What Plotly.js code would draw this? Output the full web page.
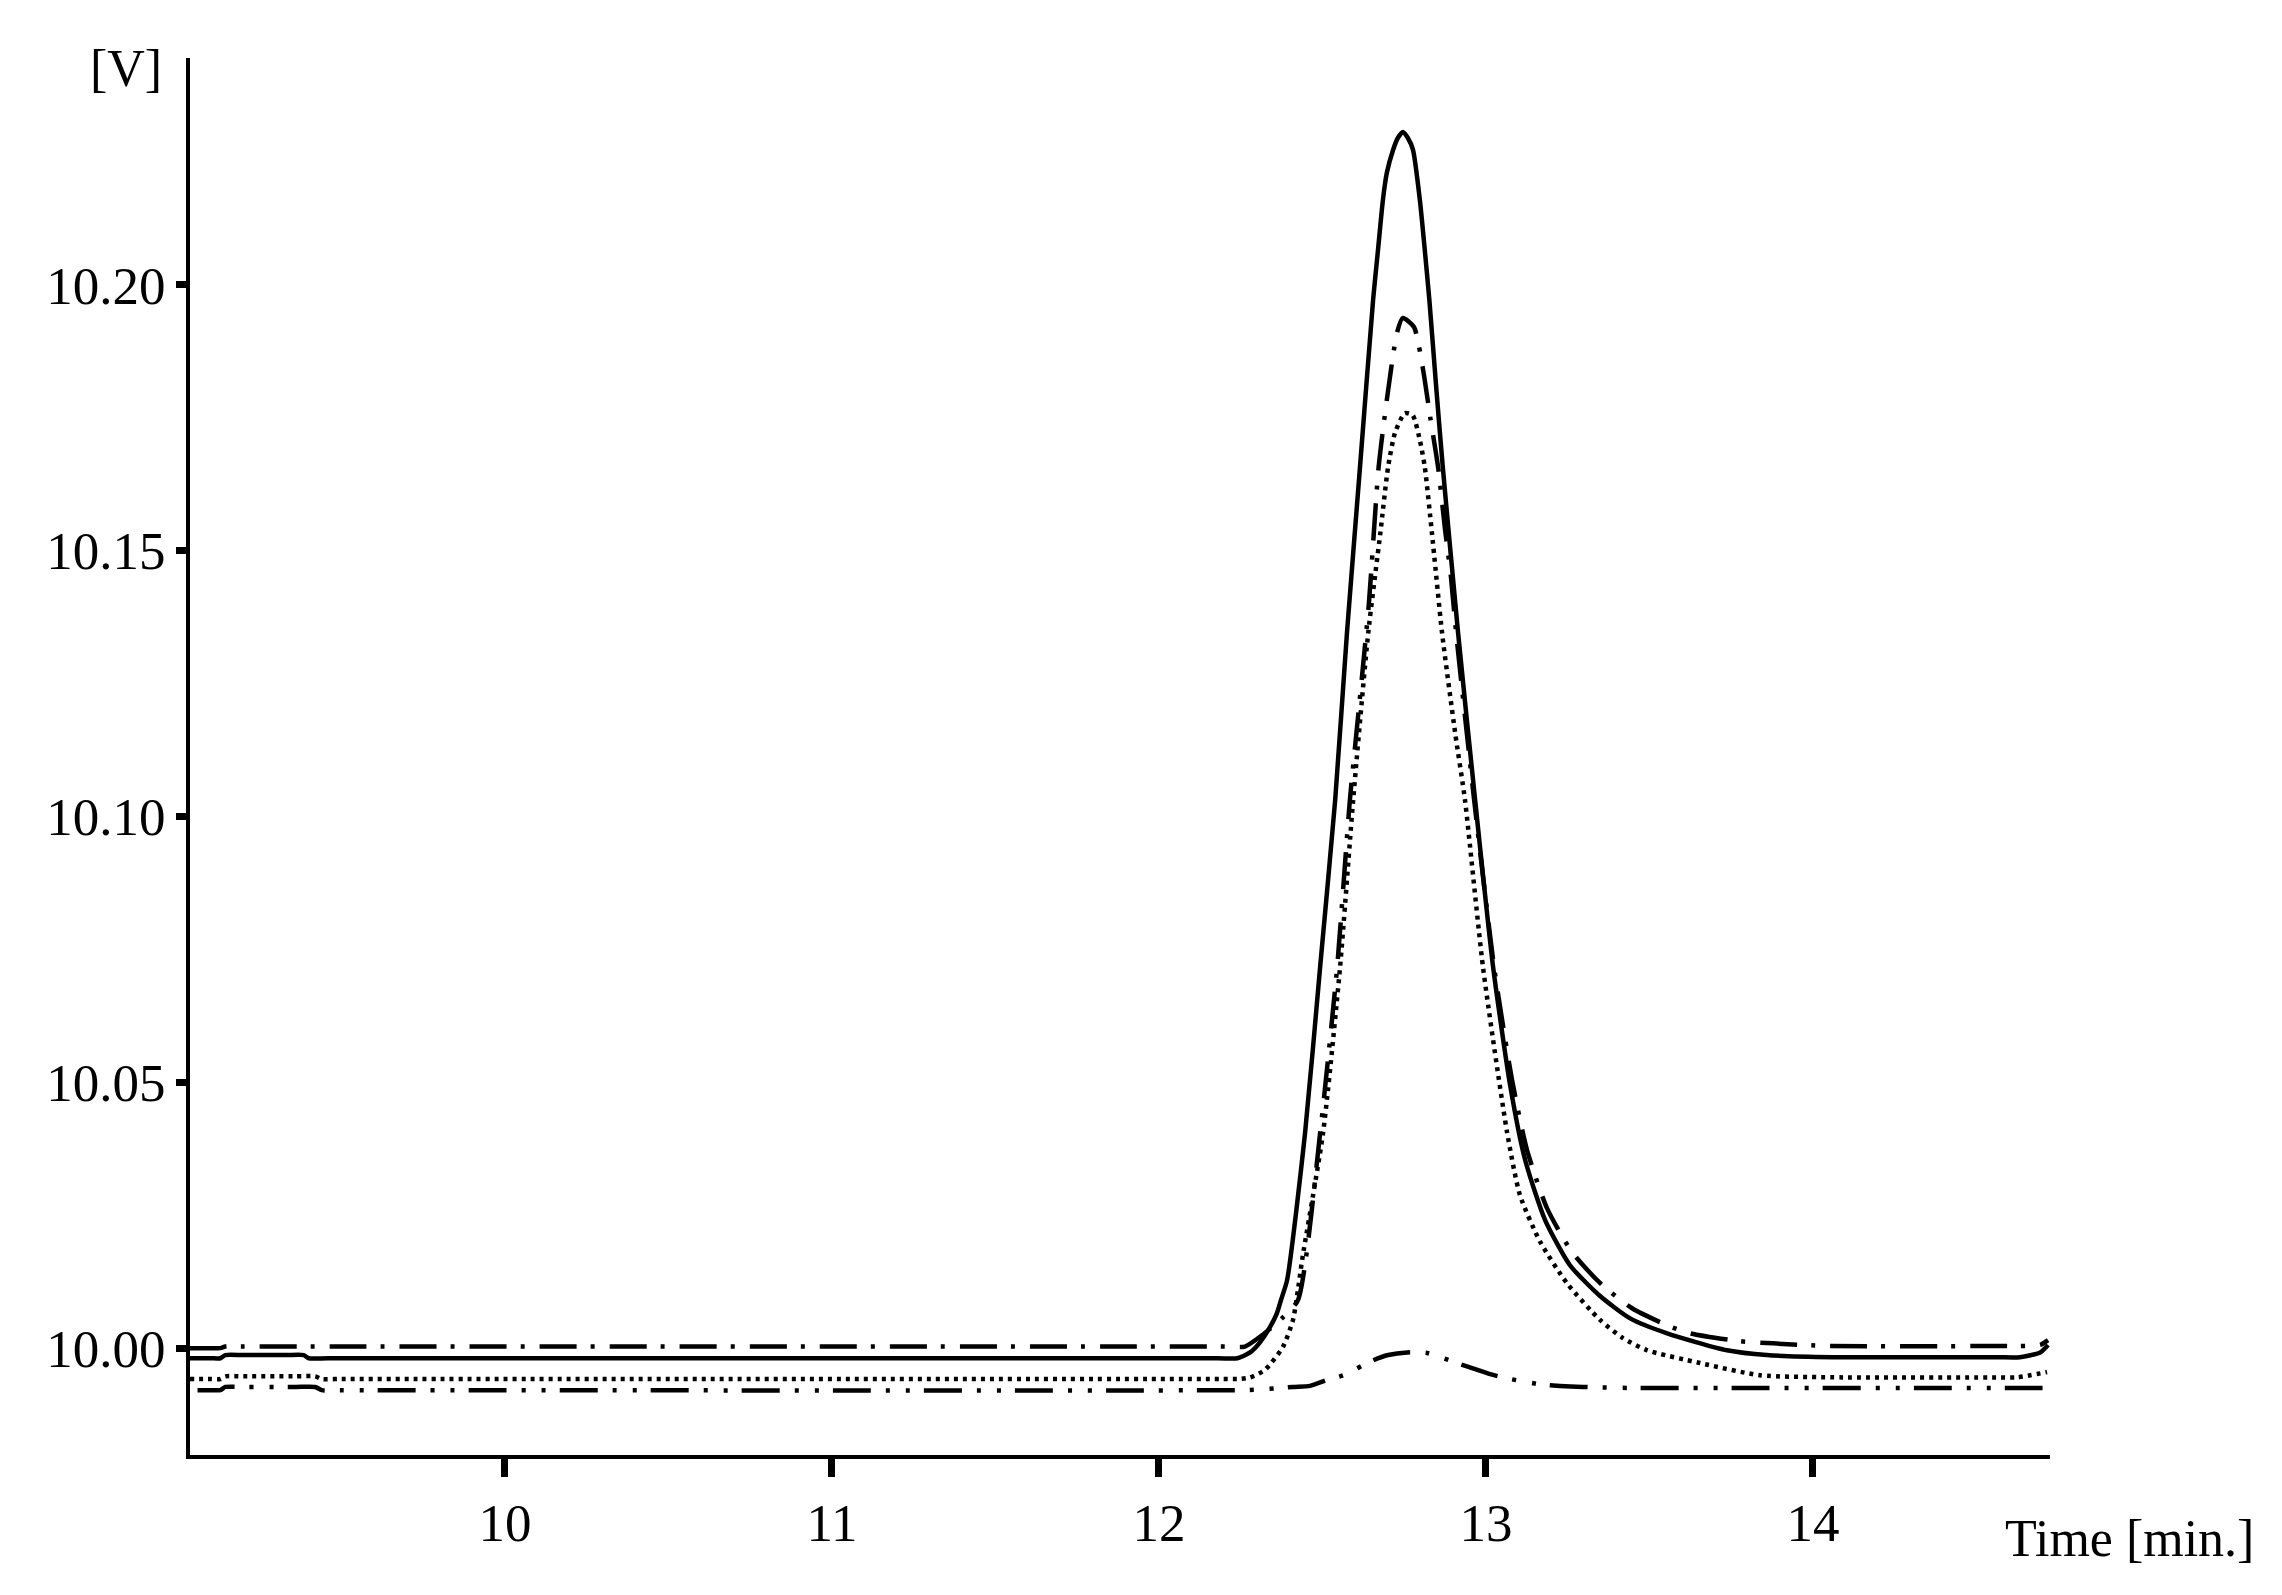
<!DOCTYPE html>
<html>
<head>
<meta charset="utf-8">
<script src="https://cdn.plot.ly/plotly-3.0.1.min.js"></script>
<style>html,body{margin:0;padding:0;background:#fff;}#chart{width:2282px;height:1595px;}</style>
</head>
<body>
<div id="chart"></div>
<script>
// Time [min.] and signal [V] for each trace
var timeSolid = [9.037, 9.100, 9.130, 9.145, 9.200, 9.330, 9.385, 9.400, 9.460, 12.180, 12.240, 12.279, 12.309, 12.340, 12.361, 12.373, 12.392, 12.447, 12.493, 12.539, 12.575, 12.615, 12.655, 12.670, 12.685, 12.697, 12.716, 12.731, 12.746, 12.761, 12.777, 12.798, 12.813, 12.827, 12.847, 12.868, 12.915, 12.967, 13.022, 13.074, 13.120, 13.181, 13.257, 13.349, 13.441, 13.554, 13.737, 13.859, 14.061, 14.560, 14.633, 14.695, 14.719];
var valSolid = [9.9981, 9.9981, 9.9981, 9.9987, 9.9987, 9.9987, 9.9987, 9.9981, 9.9981, 9.9981, 9.9981, 9.9992, 10.0011, 10.0040, 10.0066, 10.0090, 10.0128, 10.0405, 10.0717, 10.1031, 10.1345, 10.1658, 10.1972, 10.2066, 10.2160, 10.2211, 10.2254, 10.2277, 10.2288, 10.2277, 10.2254, 10.2160, 10.2066, 10.1972, 10.1815, 10.1658, 10.1345, 10.1031, 10.0717, 10.0495, 10.0354, 10.0241, 10.0156, 10.0098, 10.0056, 10.0028, 9.9996, 9.9987, 9.9983, 9.9983, 9.9983, 9.9992, 10.0006];

var timeDashDot = [9.037, 9.100, 9.130, 9.145, 9.200, 12.200, 12.263, 12.315, 12.376, 12.425, 12.493, 12.545, 12.584, 12.614, 12.642, 12.672, 12.697, 12.728, 12.746, 12.780, 12.808, 12.830, 12.854, 12.875, 12.893, 12.909, 12.964, 13.025, 13.080, 13.126, 13.187, 13.263, 13.355, 13.447, 13.554, 13.624, 13.777, 13.878, 14.052, 14.560, 14.633, 14.695, 14.719];
var valDashDot = [10.0000, 10.0000, 10.0000, 10.0003, 10.0003, 10.0003, 10.0003, 10.0024, 10.0056, 10.0090, 10.0405, 10.0717, 10.1031, 10.1219, 10.1400, 10.1658, 10.1784, 10.1910, 10.1938, 10.1921, 10.1840, 10.1750, 10.1656, 10.1540, 10.1451, 10.1345, 10.1031, 10.0717, 10.0504, 10.0372, 10.0263, 10.0181, 10.0119, 10.0075, 10.0043, 10.0028, 10.0013, 10.0009, 10.0004, 10.0004, 10.0004, 10.0006, 10.0015];

var timeDotted = [9.037, 9.100, 9.130, 9.145, 9.200, 9.360, 9.420, 9.440, 9.500, 12.190, 12.248, 12.279, 12.324, 12.379, 12.410, 12.425, 12.438, 12.502, 12.554, 12.594, 12.640, 12.677, 12.701, 12.722, 12.752, 12.776, 12.798, 12.813, 12.835, 12.866, 12.906, 12.936, 12.991, 13.065, 13.104, 13.165, 13.248, 13.349, 13.419, 13.493, 13.655, 13.838, 14.092, 14.560, 14.624, 14.716];
var valDotted = [9.9942, 9.9942, 9.9942, 9.9947, 9.9947, 9.9947, 9.9947, 9.9942, 9.9942, 9.9942, 9.9942, 9.9945, 9.9959, 10.0002, 10.0053, 10.0109, 10.0166, 10.0405, 10.0717, 10.1031, 10.1345, 10.1533, 10.1658, 10.1722, 10.1759, 10.1755, 10.1708, 10.1658, 10.1533, 10.1345, 10.1157, 10.1031, 10.0717, 10.0405, 10.0288, 10.0201, 10.0122, 10.0053, 10.0019, 9.9996, 9.9972, 9.9949, 9.9945, 9.9945, 9.9945, 9.9955];

var timeDashDotDot = [9.060, 9.100, 9.130, 9.145, 9.200, 9.360, 9.420, 9.440, 9.500, 12.250, 12.300, 12.410, 12.462, 12.514, 12.563, 12.655, 12.701, 12.759, 12.820, 12.911, 12.960, 13.013, 13.074, 13.166, 13.227, 13.297, 13.450, 13.520, 14.640, 14.695, 14.719];
var valDashDotDot = [9.9921, 9.9921, 9.9921, 9.9927, 9.9927, 9.9927, 9.9927, 9.9921, 9.9921, 9.9921, 9.9922, 9.9927, 9.9929, 9.9940, 9.9949, 9.9977, 9.9987, 9.9992, 9.9991, 9.9972, 9.9962, 9.9951, 9.9942, 9.9932, 9.9929, 9.9927, 9.9925, 9.9925, 9.9925, 9.9925, 9.9925];

var xTicks = [10, 11, 12, 13, 14];
var yTicks = [10.00, 10.05, 10.10, 10.15, 10.20];
var xTitle = 'Time [min.]';
var yTitle = '[V]';

var FONT = "'Liberation Serif', 'Times New Roman', serif";
var W = 2282, H = 1595;
var ML = 190, MR = 232, MT = 58, MB = 140;
var PW = W - ML - MR, PH = H - MT - MB;
function px2paperX(px){ return (px - ML) / PW; }
function px2paperY(py){ return (H - MB - py) / PH; }

function trace(x, y, dash){
  return {x: x, y: y, type: 'scatter', mode: 'lines',
    line: {color: '#000', width: 4.5, dash: dash, shape: 'spline', smoothing: 0.6},
    hoverinfo: 'skip', showlegend: false};
}

var data = [
  trace(timeDashDotDot, valDashDotDot, '38px,15px,4px,16px,4px,14px'),
  trace(timeDotted, valDotted, '4px,5px'),
  trace(timeDashDot, valDashDot, '37px,14px,4px,15px'),
  trace(timeSolid, valSolid, 'solid')
];

var axisCommon = {
  showgrid: false, zeroline: false, showline: true, linecolor: '#000', linewidth: 4,
  ticks: 'outside', tickcolor: '#000', tickwidth: 7,
  tickfont: {family: FONT, size: 53, color: '#000'}, fixedrange: true
};

var layout = {
  width: W, height: H,
  margin: {l: ML, r: MR, t: MT, b: MB, pad: 0},
  paper_bgcolor: '#fff', plot_bgcolor: '#fff',
  xaxis: Object.assign({}, axisCommon, {
    range: [9.037, 14.725], tickmode: 'array', tickvals: xTicks,
    ticktext: xTicks.map(function(v){ return String(v); }), ticklen: 18
  }),
  yaxis: Object.assign({}, axisCommon, {
    range: [9.9799, 10.2427], tickmode: 'array', tickvals: yTicks,
    ticktext: yTicks.map(function(v){ return v.toFixed(2); }), ticklen: 10
  }),
  annotations: [
    {text: yTitle, xref: 'paper', yref: 'paper', x: px2paperX(164), y: px2paperY(68),
     xanchor: 'right', yanchor: 'middle', showarrow: false,
     font: {family: FONT, size: 52, color: '#000'}},
    {text: xTitle, xref: 'paper', yref: 'paper', x: px2paperX(2003), y: px2paperY(1538),
     xanchor: 'left', yanchor: 'middle', showarrow: false,
     font: {family: FONT, size: 52, color: '#000'}}
  ]
};

Plotly.newPlot('chart', data, layout, {staticPlot: true, displayModeBar: false});
</script>
</body>
</html>
